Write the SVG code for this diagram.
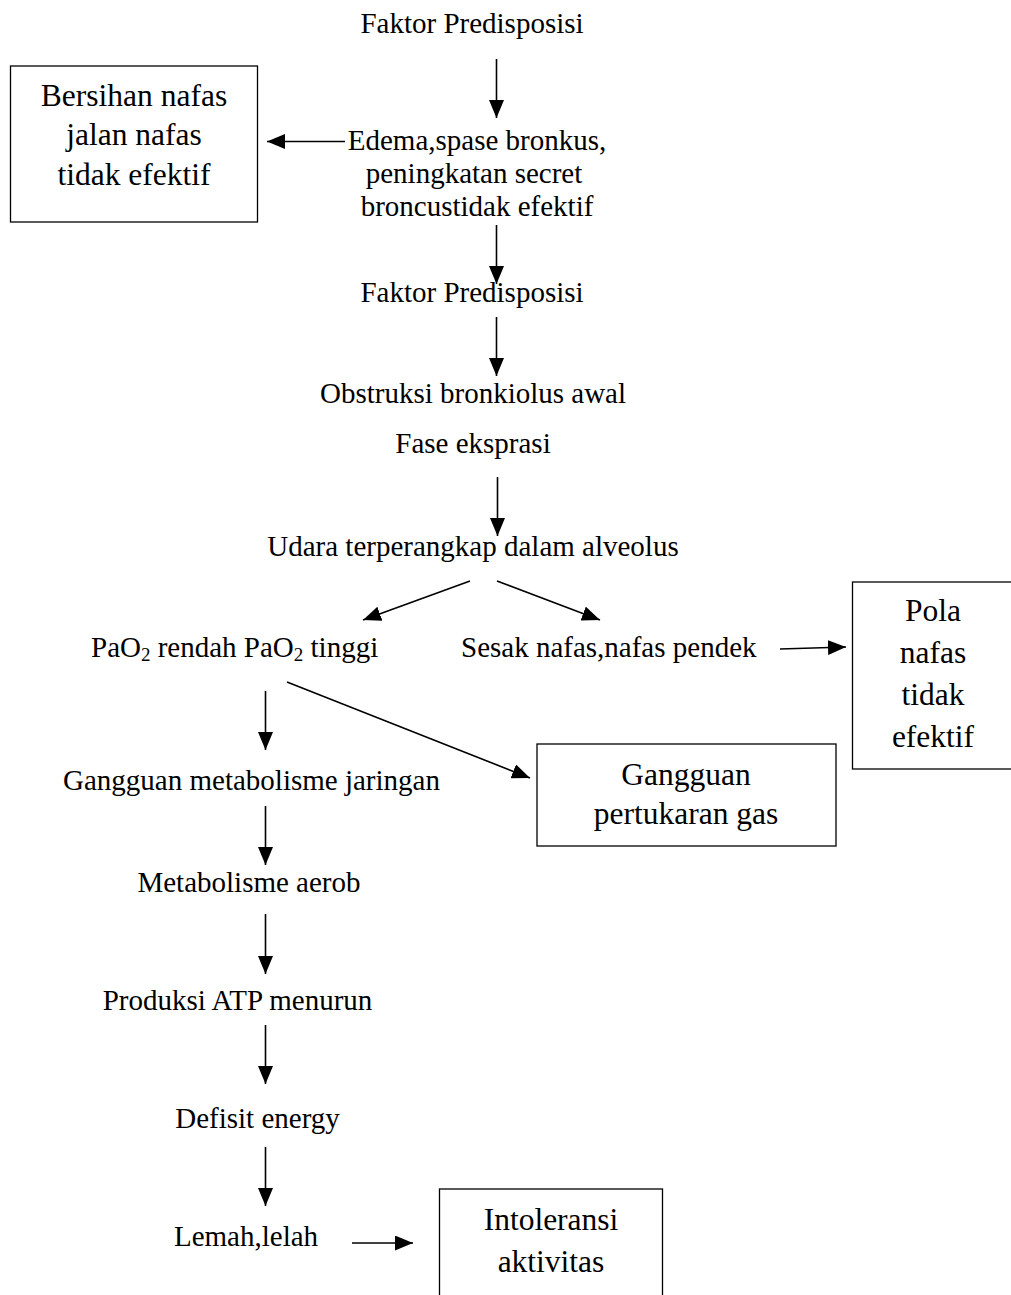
<svg xmlns="http://www.w3.org/2000/svg" width="1011" height="1295" viewBox="0 0 1011 1295">
<style>
  .t { font-family: "Liberation Serif", "Times New Roman", serif; font-size: 29px; fill: #000; }
  .b { font-family: "Liberation Serif", "Times New Roman", serif; font-size: 31.5px; fill: #000; }
  .m { text-anchor: middle; }
  .box { fill: #fff; stroke: #000; stroke-width: 1.3; }
  .c { stroke: #000; stroke-width: 1.6; fill: none; marker-end: url(#ah); }
  .sub { font-size: 19px; }
</style>
<defs>
  <marker id="ah" viewBox="0 0 18 15" refX="18" refY="7.5" markerWidth="18" markerHeight="15" markerUnits="userSpaceOnUse" orient="auto">
    <path d="M0,0 L18,7.5 L0,15 z" fill="#000"/>
  </marker>
</defs>
<rect width="1011" height="1295" fill="#fff"/>

<g id="connectors">
  <line class="c" x1="496.5" y1="59" x2="496.5" y2="118"/>
  <line class="c" x1="345" y1="141.5" x2="267" y2="141.5"/>
  <line class="c" x1="496.5" y1="225" x2="496.5" y2="284"/>
  <line class="c" x1="496.5" y1="317" x2="496.5" y2="376"/>
  <line class="c" x1="497.5" y1="477" x2="497.5" y2="536"/>
  <line class="c" x1="470" y1="581" x2="363" y2="620"/>
  <line class="c" x1="497" y1="581" x2="600" y2="620"/>
  <line class="c" x1="780" y1="649" x2="846" y2="647"/>
  <line class="c" x1="265.5" y1="691" x2="265.5" y2="750"/>
  <line class="c" x1="287" y1="682" x2="530" y2="778"/>
  <line class="c" x1="265.5" y1="806" x2="265.5" y2="865"/>
  <line class="c" x1="265.5" y1="914" x2="265.5" y2="974"/>
  <line class="c" x1="265.5" y1="1025" x2="265.5" y2="1084"/>
  <line class="c" x1="265.5" y1="1147" x2="265.5" y2="1206"/>
  <line class="c" x1="352" y1="1243" x2="413" y2="1243"/>
</g>

<g id="n-faktor1"><text class="t m" x="472" y="33">Faktor Predisposisi</text></g>

<g id="n-bersihan">
  <rect class="box" x="10.5" y="66" width="247" height="156"/>
  <text class="b m" x="134" y="106">Bersihan nafas</text>
  <text class="b m" x="134" y="145">jalan nafas</text>
  <text class="b m" x="134" y="185">tidak efektif</text>
</g>

<g id="n-edema">
  <text class="t m" x="477" y="150">Edema,spase bronkus,</text>
  <text class="t m" x="474" y="183">peningkatan secret</text>
  <text class="t m" x="477" y="216">broncustidak efektif</text>
</g>

<g id="n-faktor2"><text class="t m" x="472" y="302">Faktor Predisposisi</text></g>
<g id="n-obstruksi"><text class="t m" x="473" y="403">Obstruksi bronkiolus awal</text></g>
<g id="n-fase"><text class="t m" x="473" y="453">Fase eksprasi</text></g>
<g id="n-udara"><text class="t m" x="473" y="556">Udara terperangkap dalam alveolus</text></g>

<g id="n-pao2"><text class="t" x="91" y="657">PaO<tspan class="sub" dy="4">2</tspan><tspan dy="-4"> rendah PaO</tspan><tspan class="sub" dy="4">2</tspan><tspan dy="-4"> tinggi</tspan></text></g>
<g id="n-sesak"><text class="t" x="461" y="657">Sesak nafas,nafas pendek</text></g>

<g id="n-pola">
  <rect class="box" x="852.5" y="582" width="165" height="187"/>
  <text class="b m" x="933" y="621">Pola</text>
  <text class="b m" x="933" y="663">nafas</text>
  <text class="b m" x="933" y="705">tidak</text>
  <text class="b m" x="933" y="747">efektif</text>
</g>

<g id="n-gangguan-gas">
  <rect class="box" x="537" y="744" width="299" height="102"/>
  <text class="b m" x="686" y="785">Gangguan</text>
  <text class="b m" x="686" y="824">pertukaran gas</text>
</g>

<g id="n-metab-jaringan"><text class="t m" x="251.5" y="790">Gangguan metabolisme jaringan</text></g>
<g id="n-metab-aerob"><text class="t m" x="249" y="892">Metabolisme aerob</text></g>
<g id="n-atp"><text class="t m" x="237.5" y="1010">Produksi ATP menurun</text></g>
<g id="n-defisit"><text class="t m" x="257.5" y="1128">Defisit energy</text></g>
<g id="n-lemah"><text class="t m" x="246" y="1246">Lemah,lelah</text></g>

<g id="n-intoleransi">
  <rect class="box" x="439.5" y="1189" width="223" height="120"/>
  <text class="b m" x="551" y="1230">Intoleransi</text>
  <text class="b m" x="551" y="1272">aktivitas</text>
</g>
</svg>
